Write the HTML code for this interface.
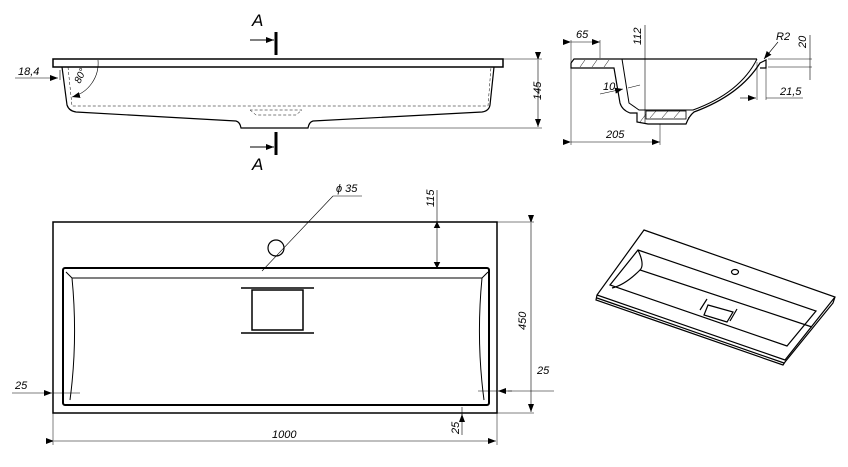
<!DOCTYPE html>
<html><head><style>
html,body{margin:0;padding:0;background:#fff;}
svg{display:block;font-family:"Liberation Sans",sans-serif;font-style:italic;}
</style></head><body>
<svg width="848" height="467" viewBox="0 0 848 467" xmlns="http://www.w3.org/2000/svg">
<defs>
<marker id="ar" markerWidth="8" markerHeight="6" refX="8" refY="3" orient="auto" markerUnits="userSpaceOnUse"><path d="M0,0 L8,3 L0,6 z" fill="#000"/></marker>
</defs>
<g fill="none" stroke="#000">
<!-- FRONT VIEW -->
<rect x="53" y="59" width="450" height="8" stroke-width="1.5"/>
<path d="M62,67 L67,105 Q69,111 76,112 L236,121 Q240,122 241,128 L308,128 Q309,122 313,121 L482,112 Q489,111 490,105 L494,67" stroke-width="1.2"/>
<path d="M68,67 L72,106 L488,106 L491,67" stroke-width="0.5" stroke-dasharray="3,2"/>
<path d="M250,110 L256,115 L296,115 L302,110 Z" stroke-width="0.5" stroke-dasharray="3,2"/>
<path d="M98,60 A35,35 0 0 1 72,97" stroke-width="0.6" marker-end="url(#ar)"/>
<line x1="15" y1="78" x2="58" y2="78" stroke-width="0.6" marker-end="url(#ar)"/>
<line x1="60" y1="70" x2="60" y2="80" stroke-width="0.6"/>
<line x1="503" y1="59" x2="542" y2="59" stroke-width="0.5"/>
<line x1="310" y1="128" x2="542" y2="128" stroke-width="0.5"/>
<line x1="538" y1="60" x2="538" y2="127" stroke-width="0.6" marker-start="url(#ar)" marker-end="url(#ar)"/>
<line x1="276" y1="32" x2="276" y2="55" stroke-width="3"/>
<line x1="250" y1="40" x2="274" y2="40" stroke-width="1" marker-end="url(#ar)"/>
<line x1="276" y1="132" x2="276" y2="155" stroke-width="3"/>
<line x1="250" y1="147" x2="274" y2="147" stroke-width="1" marker-end="url(#ar)"/>

<!-- SECTION -->
<path d="M571,63 L574,59 L757,59" stroke-width="1.2"/>
<path d="M571,63 L571,68 L614,68 L620,103 Q622,110 630,113 L637,113 L637,122 L648,124 L686,124 Q689,116 694,112 Q740,95 760,63 L766,60 L766,68 L760,68" stroke-width="1.2"/>
<path d="M622,59 L629,103 L639,110 L693,110 Q740,93 757,59" stroke-width="1"/>
<rect x="646" y="111" width="40" height="8" stroke-width="0.8"/>
<g stroke-width="0.5"><line x1="580" y1="67" x2="585" y2="60"/><line x1="592" y1="67" x2="597" y2="60"/><line x1="604" y1="67" x2="609" y2="60"/><line x1="650" y1="118" x2="656" y2="111"/><line x1="662" y1="118" x2="668" y2="111"/><line x1="674" y1="118" x2="680" y2="111"/><line x1="640" y1="122" x2="646" y2="114"/><line x1="688" y1="118" x2="694" y2="112"/></g>
<line x1="571" y1="40" x2="571" y2="145" stroke-width="0.5"/>
<line x1="600" y1="40" x2="600" y2="58" stroke-width="0.5"/>
<line x1="571" y1="42" x2="600" y2="42" stroke-width="0.6" marker-start="url(#ar)" marker-end="url(#ar)"/>
<line x1="645" y1="25" x2="645" y2="124" stroke-width="0.6"/>
<line x1="660" y1="124" x2="660" y2="145" stroke-width="0.5"/>
<line x1="571" y1="142" x2="660" y2="142" stroke-width="0.6" marker-start="url(#ar)" marker-end="url(#ar)"/>
<line x1="600" y1="94" x2="623" y2="89" stroke-width="0.6" marker-end="url(#ar)"/>
<line x1="640" y1="85" x2="628" y2="88" stroke-width="0.6"/>
<line x1="757" y1="62" x2="757" y2="100" stroke-width="0.5"/>
<line x1="766" y1="68" x2="766" y2="100" stroke-width="0.5"/>
<line x1="740" y1="98" x2="756" y2="98" stroke-width="0.6" marker-end="url(#ar)"/>
<line x1="766" y1="98" x2="803" y2="98" stroke-width="0.6"/>
<line x1="768" y1="59" x2="812" y2="59" stroke-width="0.5"/>
<line x1="768" y1="67" x2="812" y2="67" stroke-width="0.5"/>
<line x1="810" y1="35" x2="810" y2="80" stroke-width="0.6"/>
<line x1="778" y1="42" x2="764" y2="59" stroke-width="0.6" marker-end="url(#ar)"/>

<!-- PLAN -->
<rect x="53" y="222" width="444" height="191" stroke-width="1.5"/>
<rect x="63" y="268" width="426" height="137" rx="2" stroke-width="2"/>
<path d="M72,278 L482,278 M72,278 L66,272 M482,278 L488,272 M72,278 Q78,340 70,400 M482,278 Q476,340 484,400" stroke-width="1"/>
<rect x="252" y="290" width="51" height="40" stroke-width="1.5"/>
<line x1="241" y1="288" x2="314" y2="288" stroke-width="1.5"/>
<line x1="241" y1="333" x2="314" y2="333" stroke-width="1.5"/>
<circle cx="276" cy="248" r="8" stroke-width="1.2"/>
<line x1="262" y1="271" x2="333" y2="196" stroke-width="0.6"/>
<line x1="333" y1="196" x2="362" y2="196" stroke-width="0.6"/>
<line x1="437" y1="190" x2="437" y2="268" stroke-width="0.6"/>
<path d="M434,228 L437,222 L440,228 M434,262 L437,268 L440,262" fill="#000" stroke-width="0.5"/>
<line x1="497" y1="222" x2="534" y2="222" stroke-width="0.5"/>
<line x1="497" y1="413" x2="534" y2="413" stroke-width="0.5"/>
<line x1="531" y1="223" x2="531" y2="412" stroke-width="0.6" marker-start="url(#ar)" marker-end="url(#ar)"/>
<line x1="53" y1="413" x2="53" y2="445" stroke-width="0.5"/>
<line x1="497" y1="413" x2="497" y2="445" stroke-width="0.5"/>
<line x1="54" y1="441" x2="496" y2="441" stroke-width="0.6" marker-start="url(#ar)" marker-end="url(#ar)"/>
<line x1="12" y1="393" x2="52" y2="393" stroke-width="0.6" marker-end="url(#ar)"/>
<line x1="53" y1="393" x2="80" y2="393" stroke-width="0.5"/>
<line x1="554" y1="391" x2="508" y2="391" stroke-width="0.6"/>
<line x1="512" y1="391" x2="498" y2="391" stroke-width="0.6" marker-end="url(#ar)"/>
<line x1="478" y1="391" x2="497" y2="391" stroke-width="0.5"/>
<line x1="462" y1="407" x2="462" y2="435" stroke-width="0.6"/>
<line x1="462" y1="420" x2="462" y2="414" stroke-width="0.6" marker-end="url(#ar)"/>

<!-- ISO -->
<g stroke-width="1.2">
<path d="M644,230 L835,297 L833,303 L785,362 L783,365 L596,300 L597,295 Z"/>
<path d="M597,295 L785,360 L835,297"/>
<path d="M597,298 L784,363"/>
<path d="M638,250 L816,311 L787,346 L610,285 Z"/>
<path d="M638,250 Q645,265 640,270 L812,327"/>
<path d="M640,270 Q625,285 612,288"/>
<path d="M708,305 L733,312 L727,322 L704,315 Z"/>
<path d="M700,310 L707,299 M730,321 L737,309"/>
<ellipse cx="735" cy="272" rx="3.5" ry="2.5"/>
</g>
</g>
<g font-size="11" fill="#000">
<text x="252" y="26" font-size="17">A</text>
<text x="252" y="170" font-size="17">A</text>
<text x="18" y="75">18,4</text>
<text transform="translate(80,84) rotate(-65)" font-size="10">80°</text>
<text transform="translate(541,100) rotate(-90)">145</text>
<text x="576" y="38">65</text>
<text transform="translate(641,45) rotate(-90)">112</text>
<text x="603" y="90">10</text>
<text x="606" y="138">205</text>
<text x="776" y="40">R2</text>
<text transform="translate(806,48) rotate(-90)">20</text>
<text x="780" y="95">21,5</text>
<text x="336" y="192">ϕ 35</text>
<text transform="translate(434,207) rotate(-90)">115</text>
<text transform="translate(526,330) rotate(-90)">450</text>
<text x="272" y="438">1000</text>
<text x="15" y="389">25</text>
<text x="537" y="374">25</text>
<text transform="translate(459,434) rotate(-90)">25</text>
</g>
</svg>
</body></html>
